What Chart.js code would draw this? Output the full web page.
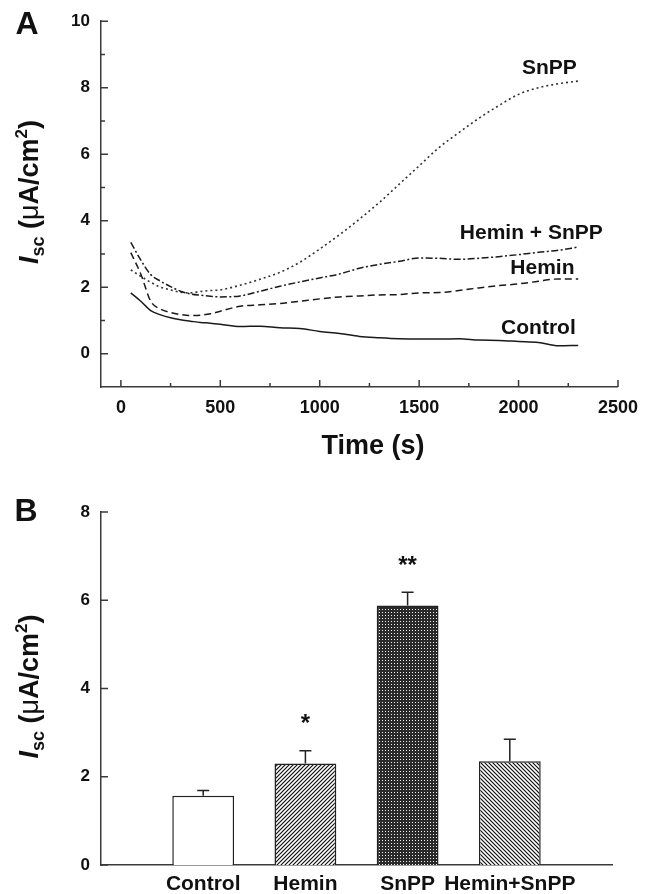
<!DOCTYPE html>
<html><head><meta charset="utf-8">
<script src="https://cdn.jsdelivr.net/npm/chart.js@4.4.1/dist/chart.umd.min.js"></script>
<style>
html,body{margin:0;padding:0;background:#fff;}
#wrap{position:relative;width:648px;height:894px;overflow:hidden;background:#fff;}
canvas{position:absolute;left:0;}
</style></head><body>
<div id="wrap">
<canvas id="cA" width="648" height="470" style="top:0"></canvas>
<canvas id="cB" width="648" height="424" style="top:470px"></canvas>
</div>
<script>
const FONT = "'Liberation Sans', Arial, Helvetica, sans-serif";

// ---------- Panel A data ----------
const timeSec = [50,100,150,200,250,300,350,400,450,500,600,700,800,900,1000,1100,1200,1300,1400,1500,1600,1700,1800,1900,2000,2100,2200,2300];
const controlIsc   = [1.83,1.58,1.30,1.17,1.08,1.02,0.98,0.94,0.92,0.89,0.82,0.83,0.78,0.76,0.67,0.61,0.52,0.48,0.45,0.44,0.44,0.45,0.41,0.40,0.37,0.34,0.24,0.25];
const heminIsc     = [3.04,2.40,1.58,1.34,1.24,1.18,1.15,1.16,1.20,1.28,1.43,1.47,1.51,1.58,1.65,1.71,1.74,1.77,1.78,1.83,1.84,1.90,1.98,2.05,2.10,2.18,2.25,2.25];
const heminSnppIsc = [3.35,2.82,2.38,2.18,2.02,1.88,1.80,1.76,1.73,1.71,1.74,1.88,2.03,2.16,2.28,2.40,2.57,2.69,2.78,2.88,2.87,2.84,2.87,2.92,2.98,3.05,3.11,3.21];
const snppIsc      = [2.52,2.33,2.15,2.00,1.92,1.85,1.83,1.87,1.90,1.92,2.06,2.24,2.45,2.75,3.15,3.58,4.05,4.55,5.10,5.65,6.20,6.65,7.08,7.46,7.80,8.00,8.12,8.20];
const xTicksA = [0,500,1000,1500,2000,2500];
const yTicksA = [0,2,4,6,8,10];
const curveLabelText = ['SnPP','Hemin + SnPP','Hemin','Control'];
const curveLabelTime = [2155,2064,2120,2100];
const curveLabelIsc  = [8.58,3.62,2.56,0.76];

// ---------- Panel B data ----------
const groups = ['Control','Hemin','SnPP','Hemin+SnPP'];
const meanIsc = [1.57,2.30,5.88,2.35];
const semIsc  = [0.12,0.29,0.30,0.50];
const significance = ['','*','**',''];
const yTicksB = [0,2,4,6,8];

const INK = '#111';
const AXIS = '#3a3a3a';

function toXY(vals){ return vals.map((v,i)=>({x:timeSec[i], y:v})); }
function lineDs(label, vals, dash, w, color){
  return {label, data:toXY(vals), borderColor:color, borderWidth:w, borderDash:dash,
          pointRadius:0, fill:false, cubicInterpolationMode:'monotone'};
}

function drawIscTitle(ctx, baseX, cy){
  ctx.save();
  ctx.translate(baseX, cy);
  ctx.rotate(-Math.PI/2);
  const parts = [
    {t:'I', f:'italic bold 27px '+FONT, dy:0},
    {t:'sc', f:'bold 18px '+FONT, dy:6},
    {t:' (', f:'bold 27px '+FONT, dy:0},
    {t:'\u03bc', f:'27px '+FONT, dy:0},
    {t:'A/cm', f:'bold 27px '+FONT, dy:0},
    {t:'2', f:'bold 17px '+FONT, dy:-11},
    {t:')', f:'bold 27px '+FONT, dy:0}
  ];
  let w = 0;
  parts.forEach(p=>{ctx.font=p.f; p.w=ctx.measureText(p.t).width; w+=p.w;});
  let x = -w/2;
  ctx.fillStyle = INK; ctx.textAlign='left'; ctx.textBaseline='alphabetic';
  parts.forEach(p=>{ctx.font=p.f; ctx.fillText(p.t, x, p.dy); x+=p.w;});
  ctx.restore();
}

const panelAExtras = {
  id:'panelAExtras',
  afterDraw(chart){
    const {ctx, scales:{x,y}, chartArea:a} = chart;
    ctx.save();
    ctx.strokeStyle = AXIS; ctx.lineWidth = 1.5;
    ctx.beginPath();
    xTicksA.forEach((v,i)=>{
      const px = x.getPixelForValue(v);
      ctx.moveTo(px, a.bottom); ctx.lineTo(px, a.bottom-7);
      if (i < xTicksA.length-1){
        const m = x.getPixelForValue((v + xTicksA[i+1])/2);
        ctx.moveTo(m, a.bottom); ctx.lineTo(m, a.bottom-4);
      }
    });
    yTicksA.forEach((v,i)=>{
      const py = y.getPixelForValue(v);
      ctx.moveTo(a.left, py); ctx.lineTo(a.left+7, py);
      if (i < yTicksA.length-1){
        const m = y.getPixelForValue((v + yTicksA[i+1])/2);
        ctx.moveTo(a.left, m); ctx.lineTo(a.left+4, m);
      }
    });
    ctx.stroke();
    ctx.fillStyle = INK; ctx.font = 'bold 21px '+FONT;
    ctx.textAlign='center'; ctx.textBaseline='middle';
    curveLabelText.forEach((t,i)=>{
      ctx.fillText(t, x.getPixelForValue(curveLabelTime[i]), y.getPixelForValue(curveLabelIsc[i]));
    });
    ctx.font = 'bold 32px '+FONT;
    ctx.fillText('A', 27, 25);
    ctx.font = 'bold 27px '+FONT; ctx.textBaseline='alphabetic';
    ctx.fillText('Time (s)', 373, 454);
    drawIscTitle(ctx, 37.5, (a.top+a.bottom)/2 - 12);
    ctx.restore();
  }
};

new Chart(document.getElementById('cA'), {
  type:'line',
  data:{datasets:[
    lineDs('Control', controlIsc, [], 1.5, '#1a1a1a'),
    lineDs('Hemin', heminIsc, [7,4], 1.5, '#1a1a1a'),
    lineDs('Hemin + SnPP', heminSnppIsc, [7,2.5,2,2.5], 1.5, '#1a1a1a'),
    lineDs('SnPP', snppIsc, [2,3], 1.6, '#333')
  ]},
  options:{
    responsive:false, animation:false, devicePixelRatio:1,
    layout:{padding:{top:21,right:30,left:0,bottom:0}},
    plugins:{legend:{display:false}, tooltip:{enabled:false}},
    scales:{
      x:{type:'linear', min:-100, max:2500,
         grid:{display:false, drawTicks:false},
         border:{display:true, color:AXIS, width:1.5},
         ticks:{padding:10, color:INK, font:{family:FONT, size:18, weight:'bold'}, maxRotation:0, callback:v=>String(v)},
         afterBuildTicks:s=>{s.ticks = xTicksA.map(v=>({value:v}));},
         afterFit:s=>{s.height = 83;}},
      y:{type:'linear', min:-1, max:10,
         grid:{display:false, drawTicks:false},
         border:{display:true, color:AXIS, width:1.5},
         ticks:{padding:11, color:INK, font:{family:FONT, size:17, weight:'bold'}, callback:v=>String(v)},
         afterBuildTicks:s=>{s.ticks = yTicksA.map(v=>({value:v}));},
         afterFit:s=>{s.width = 101;}}
    }
  },
  plugins:[panelAExtras]
});

// ---------- Panel B ----------
const cB = document.getElementById('cB');
const gB = cB.getContext('2d');
function hatchPattern(dir){
  const n = 4;
  const c = document.createElement('canvas'); c.width = n; c.height = n;
  const g = c.getContext('2d');
  g.fillStyle = '#fff'; g.fillRect(0,0,n,n);
  g.strokeStyle = '#111'; g.lineWidth = 1.2; g.beginPath();
  if (dir > 0){
    g.moveTo(-1,n+1); g.lineTo(n+1,-1);
    g.moveTo(-1,1); g.lineTo(1,-1);
    g.moveTo(n-1,n+1); g.lineTo(n+1,n-1);
  } else {
    g.moveTo(-1,-1); g.lineTo(n+1,n+1);
    g.moveTo(n-1,-1); g.lineTo(n+1,1);
    g.moveTo(-1,n-1); g.lineTo(1,n+1);
  }
  g.stroke();
  return gB.createPattern(c,'repeat');
}
function dotPattern(){
  const c = document.createElement('canvas'); c.width = 3; c.height = 3;
  const g = c.getContext('2d');
  g.fillStyle = '#2a2a2a'; g.fillRect(0,0,3,3);
  g.fillStyle = '#f0f0f0'; g.fillRect(1,1,1,1);
  return gB.createPattern(c,'repeat');
}
const barFills = ['#ffffff', hatchPattern(1), dotPattern(), hatchPattern(-1)];

const panelBExtras = {
  id:'panelBExtras',
  afterDatasetsDraw(chart){
    const {ctx, scales:{y}} = chart;
    const meta = chart.getDatasetMeta(0);
    ctx.save();
    ctx.strokeStyle = '#222'; ctx.lineWidth = 1.5;
    groups.forEach((g,i)=>{
      const bar = meta.data[i+1];
      const xc = bar.x;
      const yb = y.getPixelForValue(meanIsc[i]);
      const yt = y.getPixelForValue(meanIsc[i] + semIsc[i]);
      ctx.beginPath();
      ctx.moveTo(xc, yb); ctx.lineTo(xc, yt);
      ctx.moveTo(xc-6, yt); ctx.lineTo(xc+6, yt);
      ctx.stroke();
      if (significance[i]){
        ctx.font = 'bold 24px '+FONT; ctx.fillStyle = INK;
        ctx.textAlign='center'; ctx.textBaseline='alphabetic';
        const m = ctx.measureText(significance[i]);
        const gh = m.actualBoundingBoxAscent - m.actualBoundingBoxDescent;
        const cy = yt - 24;
        ctx.fillText(significance[i], xc, cy + m.actualBoundingBoxAscent - gh/2);
      }
    });
    ctx.restore();
  },
  afterDraw(chart){
    const {ctx, scales:{y}, chartArea:a} = chart;
    ctx.save();
    ctx.strokeStyle = AXIS; ctx.lineWidth = 1.5;
    ctx.beginPath();
    yTicksB.forEach(v=>{
      const py = y.getPixelForValue(v);
      ctx.moveTo(a.left, py); ctx.lineTo(a.left+7, py);
    });
    ctx.stroke();
    ctx.fillStyle = INK; ctx.font = 'bold 32px '+FONT;
    ctx.textAlign='center'; ctx.textBaseline='middle';
    ctx.fillText('B', 26, 42);
    drawIscTitle(ctx, 37.5, (a.top+a.bottom)/2 - 2);
    ctx.restore();
  }
};

new Chart(cB, {
  type:'bar',
  data:{
    labels:['', ...groups, ''],
    datasets:[{
      data:[null, ...meanIsc, null],
      backgroundColor:['#fff', ...barFills, '#fff'],
      borderColor:'#222', borderWidth:1.5, borderSkipped:'bottom',
      categoryPercentage:1, barPercentage:0.605
    }]
  },
  options:{
    responsive:false, animation:false, devicePixelRatio:1,
    layout:{padding:{top:42,right:36,left:0,bottom:0}},
    plugins:{legend:{display:false}, tooltip:{enabled:false}},
    scales:{
      x:{type:'category', offset:false,
         grid:{display:false, drawTicks:false},
         border:{display:true, color:AXIS, width:1.5},
         ticks:{padding:7, color:INK, font:{family:FONT, size:21, weight:'bold'}, autoSkip:false, maxRotation:0},
         afterFit:s=>{s.height = 29;}},
      y:{type:'linear', min:0, max:8,
         grid:{display:false, drawTicks:false},
         border:{display:true, color:AXIS, width:1.5},
         ticks:{padding:11, color:INK, font:{family:FONT, size:17, weight:'bold'}, callback:v=>String(v)},
         afterBuildTicks:s=>{s.ticks = yTicksB.map(v=>({value:v}));},
         afterFit:s=>{s.width = 101;}}
    }
  },
  plugins:[panelBExtras]
});
</script>
</body></html>
